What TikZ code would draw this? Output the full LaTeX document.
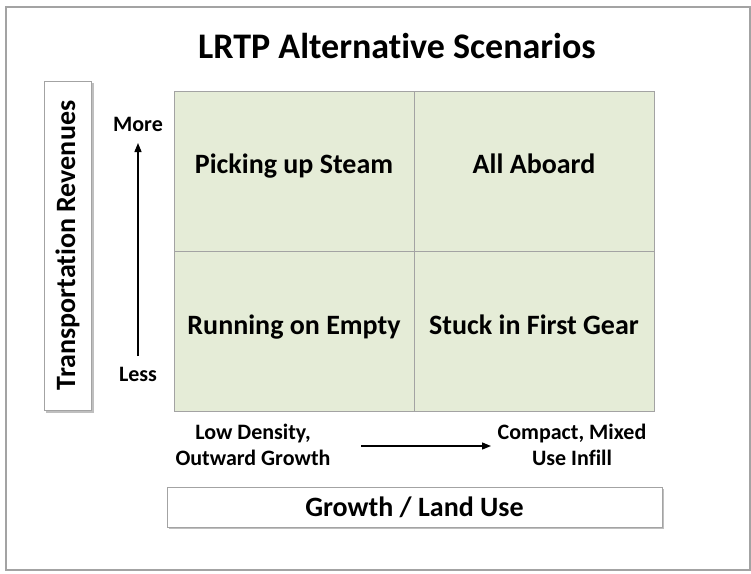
\documentclass[tikz,border=0pt]{standalone}
\usepackage{fontspec}
\setmainfont{Carlito}[Ligatures={NoCommon}]
\usetikzlibrary{arrows.meta}
\definecolor{cellgreen}{HTML}{E5ECD7}
\definecolor{gridgray}{HTML}{A3A3A3}
\tikzset{
  cell/.style={draw=gridgray, line width=1pt, fill=cellgreen, minimum width=240pt, minimum height=160pt, inner sep=0pt},
  celltext/.style={anchor=base, inner sep=0pt, font=\bfseries\fontsize{28}{32}\selectfont},
  axisbox/.style={draw=gridgray, line width=1pt, fill=white, inner sep=0pt},
  lbl/.style={font=\bfseries\fontsize{22}{26}\selectfont, align=center, inner sep=0pt},
  axarrow/.style={-{Triangle[length=9pt,width=7pt]}, line width=1.3pt}
}
\begin{document}
\begin{tikzpicture}[x=1pt,y=-1pt]
\useasboundingbox (0,0) rectangle (751,573);
\fill[white] (0,0) rectangle (751,573);
\draw[gridgray, line width=1.5pt] (6,7) rectangle (750,570);
\node[font=\bfseries\fontsize{36}{40}\selectfont, inner sep=0pt] (title) at (397,46) {LRTP Alternative Scenarios};
% grid
\node[cell] (tl) at (294,171) {};
\node[cell] (tr) at (534,171) {};
\node[cell] (bl) at (294,331) {};
\node[cell] (br) at (534,331) {};
\node[celltext] (tlt) at (294,173) {Picking up Steam};
\node[celltext] (trt) at (534,173) {All Aboard};
\node[celltext] (blt) at (294,334) {Running on Empty};
\node[celltext] (brt) at (534,334) {Stuck in First Gear};
% vertical axis box
\fill[black!25] (46,83) rectangle (94,413);
\node[axisbox, minimum width=47pt, minimum height=329pt] (vbox) at (67.5,245.5) {};
\node[rotate=90, font=\bfseries\fontsize{28}{32}\selectfont, inner sep=0pt] (vlabel) at (vbox.center) {Transportation Revenues};
\node[lbl] (more) at (138,124) {More};
\node[lbl] (less) at (138,374) {Less};
\coordinate (vstart) at (138,356);
\coordinate (vend) at (138,143);
\draw[axarrow] (vstart) -- (vend);
% horizontal axis
\node[lbl] (low) at (253,445) {Low Density,\\Outward Growth};
\node[lbl] (compact) at (572,445) {Compact, Mixed\\Use Infill};
\coordinate (hstart) at (361,446);
\coordinate (hend) at (491,446);
\draw[axarrow] (hstart) -- (hend);
\fill[black!25] (169,489) rectangle (664,529);
\node[axisbox, minimum width=495pt, minimum height=40pt] (hbox) at (414.5,507) {};
\node[font=\bfseries\fontsize{28}{32}\selectfont, inner sep=0pt] (hlabel) at (hbox.center) {Growth / Land Use};
\end{tikzpicture}
\end{document}
